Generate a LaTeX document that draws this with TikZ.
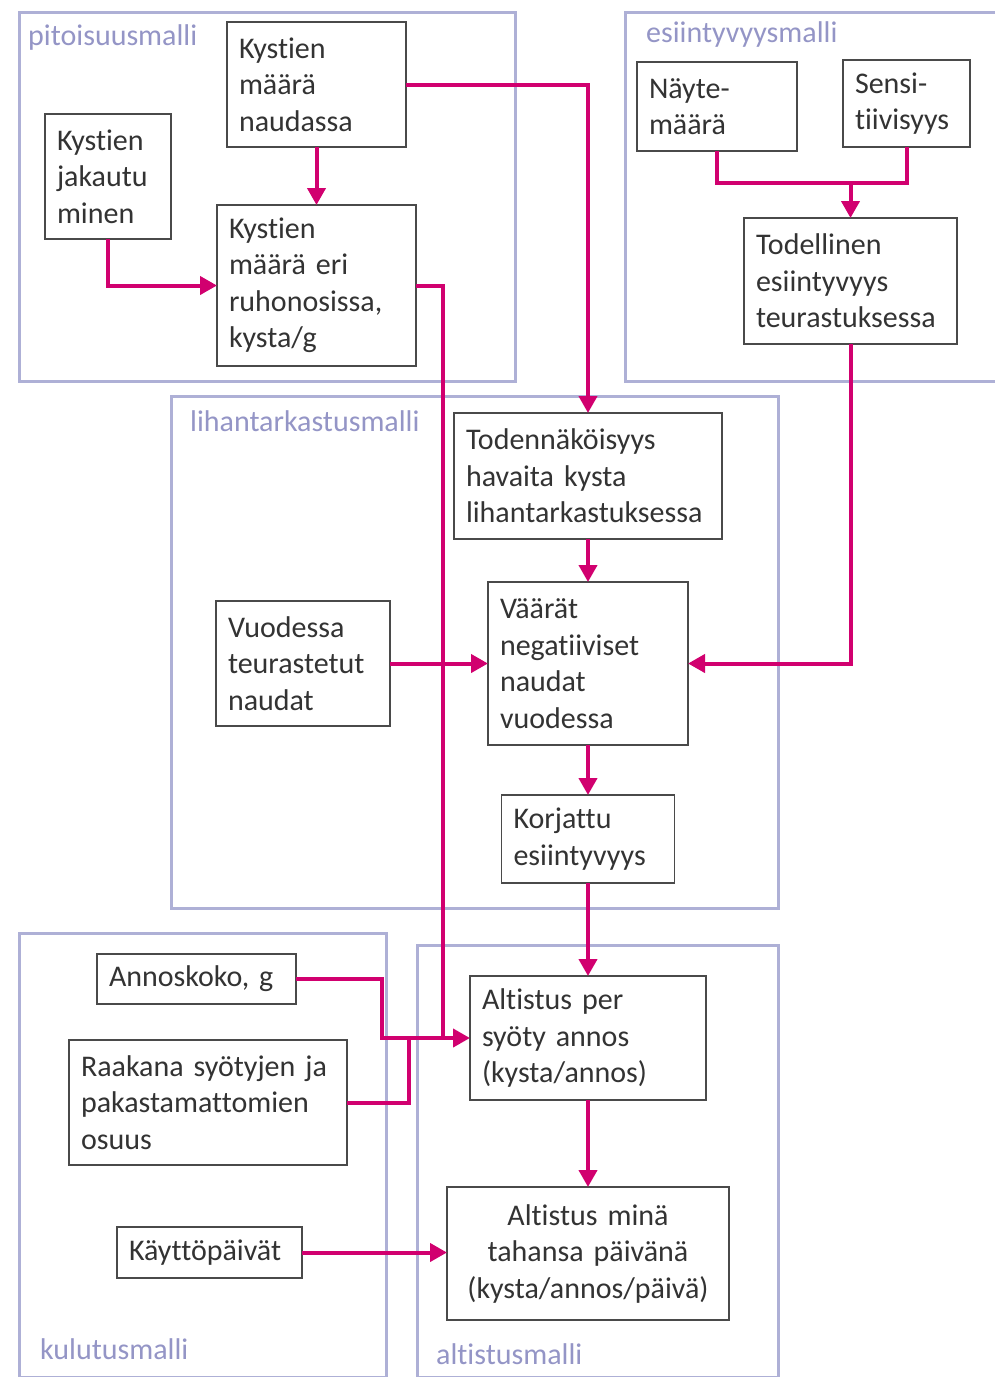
\documentclass[tikz,border=0pt]{standalone}
\usepackage{fontspec}
\setmainfont[Ligatures=NoCommon]{Carlito}
\usetikzlibrary{arrows.meta}
\usetikzlibrary{positioning}

\definecolor{flow}{HTML}{D1006F}
\definecolor{frame}{HTML}{AEB0D6}
\definecolor{frametext}{HTML}{9495C6}
\definecolor{boxline}{HTML}{4A4A4A}
\definecolor{boxtext}{HTML}{333333}

\begin{document}
\begin{tikzpicture}[
					x=1pt, y=-1pt,
					node distance=40pt,
					box/.style={draw=boxline, line width=1.3pt, fill=white, text=boxtext, font=\fontsize{30}{36.5}\selectfont, align=left, inner xsep=12pt, inner ysep=4pt, outer sep=0pt},
					group/.style={draw=frame, line width=3pt},
					grouplabel/.style={anchor=base west, inner sep=0pt, text=frametext, font=\fontsize{30}{36.5}\selectfont},
					link/.style={draw=flow, line width=4pt},
					arrow/.style={link, -{Triangle[length=17pt, width=18pt]}},
				]
					\clip (0,0) rectangle (995,1377);
					\fill[white] (0,0) rectangle (995,1377);
					
					\draw[group] (19,12) rectangle (515,381);
					\draw[group] (625,12) rectangle (1010,381);
					\draw[group] (171,396) rectangle (778,908);
					\draw[group] (19,933) rectangle (386,1377);
					\draw[group] (417,945) rectangle (778,1377);
					
					\node (pitoisuus) [grouplabel] at (28,45) {pitoisuusmalli};
					\node (esiintyvyys) [grouplabel] at (646,42) {esiintyvyysmalli};
					\node (lihantarkastus) [grouplabel] at (190,431) {lihantarkastusmalli};
					\node (kulutus) [grouplabel] at (40,1359) {kulutusmalli};
					\node (altistus) [grouplabel] at (436,1364) {altistusmalli};
					
					\node (naudassa) [box, anchor=north west, text width=155pt, minimum height=125pt] at (227,22) {Kystien\\määrä\\naudassa};
					\node (jakautu) [box, anchor=north west, text width=102pt, minimum height=125pt] at (45,114) {Kystien\\jakautu\\minen};
					\node (ruhonosat) [box, below=58pt of naudassa, text width=175pt, minimum height=161pt] {Kystien\\määrä eri\\ruhonosissa,\\kysta/g};
					\node (nayte) [box, anchor=north west, text width=136pt, minimum height=89pt] at (637,62) {Näyte-\\määrä};
					\node (sensi) [box, anchor=north west, text width=103pt, minimum height=87pt] at (843,60) {Sensi-\\tiivisyys};
					\node (todellinen) [box, anchor=north west, text width=189pt, minimum height=126pt] at (744,218) {Todellinen\\esiintyvyys\\teurastuksessa};
					\node (todnak) [box, anchor=north west, text width=244pt, minimum height=126pt] at (454,413) {Todennäköisyys\\havaita kysta\\lihantarkastuksessa};
					\node (vaarat) [box, below=43pt of todnak, text width=176pt, minimum height=163pt] {Väärät\\negatiiviset\\naudat\\vuodessa};
					\node (vuodessa) [box, left=98pt of vaarat, text width=150pt, minimum height=125pt] {Vuodessa\\teurastetut\\naudat};
					\node (korjattu) [box, below=50pt of vaarat, text width=149pt, minimum height=88pt] {Korjattu\\esiintyvyys};
					\node (altper) [box, below=93pt of korjattu, text width=212pt, minimum height=124pt] {Altistus per\\syöty annos\\(kysta/annos)};
					\node (altmina) [box, below=87pt of altper, align=center, text width=258pt, minimum height=133pt] {Altistus minä\\tahansa päivänä\\(kysta/annos/päivä)};
					\node (annoskoko) [box, anchor=north west, text width=175pt, minimum height=50pt] at (97,954) {Annoskoko, g};
					\node (raakana) [box, anchor=north west, text width=254pt, minimum height=125pt] at (69,1040) {Raakana syötyjen ja\\pakastamattomien\\osuus};
					\node (kaytto) [box, anchor=north west, text width=161pt, minimum height=51pt] at (117,1227) {Käyttöpäivät};
					
					\draw[arrow] (naudassa.east) -| (todnak.north);
					\draw[arrow] (naudassa.south) -- (ruhonosat.north);
					\draw[arrow] (jakautu.south) |- (ruhonosat.west);
					\draw[arrow] (ruhonosat.east) -- ++(27,0) coordinate (drop) |- (altper.west);
					\draw[link] (annoskoko.east) -- ++(86,0) |- (drop |- altper.west);
					\draw[link] (raakana.east) -- ++(62,0) |- (drop |- altper.west);
					\draw[link] (nayte.south) -- ++(0,32) coordinate (fork) -| (sensi.south);
					\draw[arrow] (fork -| todellinen.north) -- (todellinen.north);
					\draw[arrow] (todellinen.south) |- (vaarat.east);
					\draw[arrow] (todnak.south) -- (vaarat.north);
					\draw[arrow] (vuodessa.east) -- (vaarat.west);
					\draw[arrow] (vaarat.south) -- (korjattu.north);
					\draw[arrow] (korjattu.south) -- (altper.north);
					\draw[arrow] (altper.south) -- (altmina.north);
					\draw[arrow] (kaytto.east) -- (kaytto.east -| altmina.west);
				\end{tikzpicture}
\end{document}
